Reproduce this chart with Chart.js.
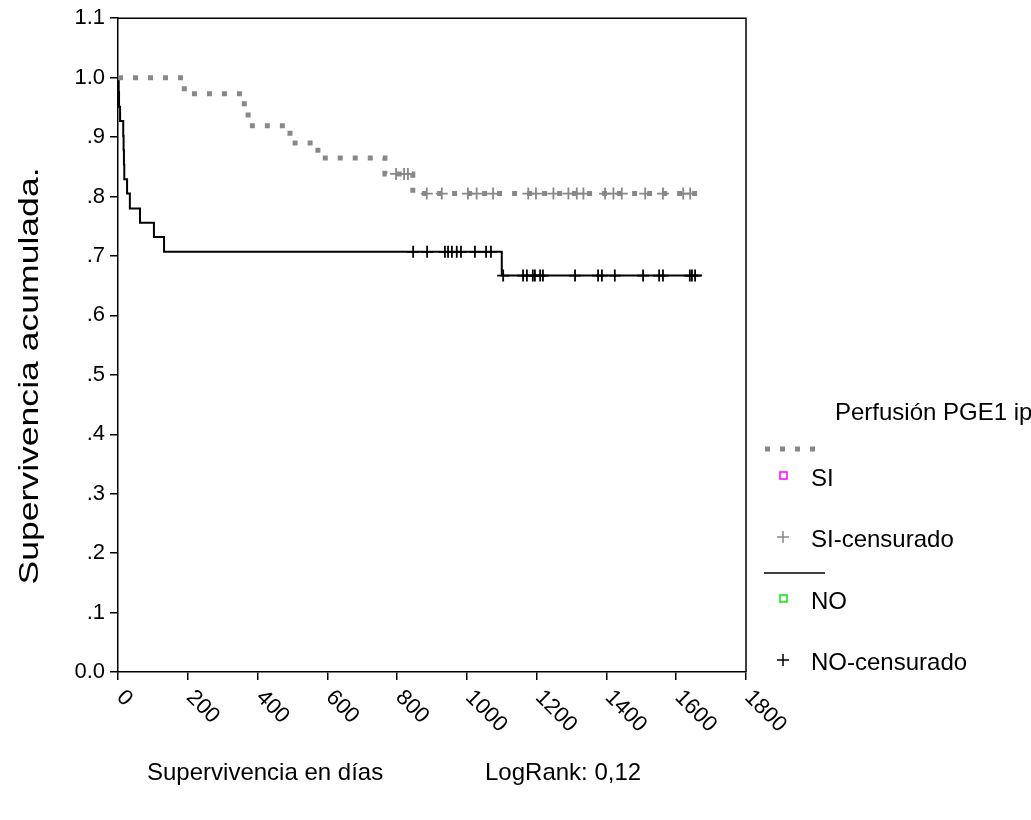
<!DOCTYPE html>
<html>
<head>
<meta charset="utf-8">
<script src="https://cdn.jsdelivr.net/npm/chart.js@4.4.0/dist/chart.umd.min.js"></script>
<style>
  html, body { margin: 0; padding: 0; background: #fff; }
  #wrap { width: 1031px; height: 820px; }
</style>
</head>
<body>
<div id="wrap"><canvas id="km" width="1031" height="820"></canvas></div>
<script>
// Kaplan-Meier, grupo SI (perfusión PGE1 ip)
var siTimes = [0, 190, 362, 373, 493, 573, 765, 845, 1668];
var siSurv  = [1.0, 0.973, 0.946, 0.919, 0.890, 0.865, 0.838, 0.805, 0.805];
var siCensTimes = [797, 820, 831, 885, 928, 1003, 1028, 1075, 1176, 1198, 1248, 1291, 1315, 1334, 1396, 1420, 1444, 1511, 1562, 1620, 1640];
var siCensSurv  = [0.838, 0.838, 0.838, 0.805, 0.805, 0.805, 0.805, 0.805, 0.805, 0.805, 0.805, 0.805, 0.805, 0.805, 0.805, 0.805, 0.805, 0.805, 0.805, 0.805, 0.805];

// grupo NO
var noTimes = [0, 2, 3, 6, 15, 16, 17, 18, 26, 34, 63, 103, 132, 1100, 1674];
var noSurv  = [1.0, 0.976, 0.951, 0.927, 0.902, 0.878, 0.854, 0.829, 0.805, 0.780, 0.756, 0.732, 0.707, 0.667, 0.667];
var noCensTimes = [846, 886, 937, 946, 957, 971, 983, 1023, 1055, 1069, 1104, 1161, 1172, 1189, 1195, 1210, 1218, 1310, 1376, 1387, 1424, 1505, 1551, 1562, 1639, 1645, 1654];
var noCensSurv  = [0.707, 0.707, 0.707, 0.707, 0.707, 0.707, 0.707, 0.707, 0.707, 0.707, 0.667, 0.667, 0.667, 0.667, 0.667, 0.667, 0.667, 0.667, 0.667, 0.667, 0.667, 0.667, 0.667, 0.667, 0.667, 0.667, 0.667];

var xTicks = [0, 200, 400, 600, 800, 1000, 1200, 1400, 1600, 1800];
var yTickLabels = ['0.0', '.1', '.2', '.3', '.4', '.5', '.6', '.7', '.8', '.9', '1.0', '1.1'];

function pts(xs, ys) {
    return xs.map(function (x, i) { return { x: x, y: ys[i] }; });
}

var FONT = '"Liberation Sans", Arial, sans-serif';
var GRAY = '#888888';

// frame, rotated x labels, titles and legend
var extras = {
    id: 'extras',
    afterDraw: function (chart) {
        var ctx = chart.ctx;
        var a = chart.chartArea;
        var xs = chart.scales.x;
        ctx.save();

        ctx.strokeStyle = '#000';
        ctx.lineWidth = 1.5;
        ctx.beginPath();
        ctx.moveTo(a.left, a.top);
        ctx.lineTo(a.right, a.top);
        ctx.lineTo(a.right, a.bottom);
        ctx.stroke();

        ctx.fillStyle = '#000';
        ctx.font = '22px ' + FONT;
        ctx.textAlign = 'left';
        ctx.textBaseline = 'middle';
        xs.ticks.forEach(function (t) {
            var px = xs.getPixelForValue(t.value);
            ctx.save();
            ctx.translate(px + 2, a.bottom + 22);
            ctx.rotate(Math.PI / 4);
            ctx.fillText(String(t.value), 0, 0);
            ctx.restore();
        });

        ctx.font = '24px ' + FONT;
        ctx.fillText('Supervivencia en días', 147, 773);
        ctx.fillText('LogRank: 0,12', 485, 773);

        ctx.save();
        ctx.translate(30, 376);
        ctx.rotate(-Math.PI / 2);
        ctx.scale(1.27, 1);
        ctx.textAlign = 'center';
        ctx.font = '28px ' + FONT;
        ctx.fillText('Supervivencia acumulada.', 0, 0);
        ctx.restore();

        // legend
        ctx.fillText('Perfusión PGE1 ip', 835, 413);

        ctx.save();
        ctx.strokeStyle = GRAY;
        ctx.lineWidth = 5;
        ctx.setLineDash([5, 10]);
        ctx.beginPath();
        ctx.moveTo(765, 449);
        ctx.lineTo(820, 449);
        ctx.stroke();
        ctx.restore();

        ctx.lineWidth = 1.5;
        ctx.strokeStyle = '#ff00ff';
        ctx.strokeRect(780, 472, 7, 7);
        ctx.fillText('SI', 811, 479);

        ctx.strokeStyle = GRAY;
        ctx.beginPath();
        ctx.moveTo(777, 537); ctx.lineTo(789, 537);
        ctx.moveTo(783, 531); ctx.lineTo(783, 543);
        ctx.stroke();
        ctx.fillText('SI-censurado', 811, 540);

        ctx.strokeStyle = '#000';
        ctx.beginPath();
        ctx.moveTo(764, 573); ctx.lineTo(825, 573);
        ctx.stroke();

        ctx.strokeStyle = '#00ee00';
        ctx.strokeRect(780, 595, 7, 7);
        ctx.fillText('NO', 811, 602);

        ctx.strokeStyle = '#000';
        ctx.beginPath();
        ctx.moveTo(777, 660); ctx.lineTo(789, 660);
        ctx.moveTo(783, 654); ctx.lineTo(783, 666);
        ctx.stroke();
        ctx.fillText('NO-censurado', 811, 663);

        ctx.restore();
    }
};

new Chart(document.getElementById('km'), {
    type: 'line',
    data: {
        datasets: [
            {
                label: 'SI',
                data: pts(siTimes, siSurv),
                stepped: 'before',
                borderColor: GRAY,
                borderWidth: 5,
                borderDash: [5, 10],
                borderCapStyle: 'butt',
                pointRadius: 0,
                fill: false
            },
            {
                label: 'SI-censurado',
                data: pts(siCensTimes, siCensSurv),
                showLine: false,
                pointStyle: 'cross',
                pointRadius: 6,
                borderColor: GRAY,
                borderWidth: 1.8
            },
            {
                label: 'NO',
                data: pts(noTimes, noSurv),
                stepped: 'before',
                borderColor: '#000',
                borderWidth: 2,
                pointRadius: 0,
                fill: false
            },
            {
                label: 'NO-censurado',
                data: pts(noCensTimes, noCensSurv),
                showLine: false,
                pointStyle: 'cross',
                pointRadius: 6,
                borderColor: '#000',
                borderWidth: 1.8
            }
        ]
    },
    options: {
        responsive: false,
        animation: false,
        layout: { padding: { top: 16, right: 285, bottom: 0, left: 0 } },
        plugins: {
            legend: { display: false },
            tooltip: { enabled: false }
        },
        scales: {
            x: {
                type: 'linear',
                min: 0,
                max: 1800,
                afterBuildTicks: function (scale) {
                    scale.ticks = xTicks.map(function (v) { return { value: v }; });
                },
                afterFit: function (scale) { scale.height = 148; },
                grid: { drawOnChartArea: false, drawTicks: true, tickLength: 8, color: '#000', lineWidth: 1.5 },
                border: { display: true, color: '#000', width: 1.5 },
                ticks: { display: false }
            },
            y: {
                min: 0,
                max: 1.1,
                afterFit: function (scale) { scale.width = 118; },
                grid: { drawOnChartArea: false, drawTicks: true, tickLength: 8, color: '#000', lineWidth: 1.5 },
                border: { display: true, color: '#000', width: 1.5 },
                ticks: {
                    stepSize: 0.1,
                    padding: 5,
                    color: '#000',
                    font: { family: FONT, size: 22 },
                    callback: function (v, i) { return yTickLabels[i]; }
                }
            }
        }
    },
    plugins: [extras]
});
</script>
</body>
</html>
